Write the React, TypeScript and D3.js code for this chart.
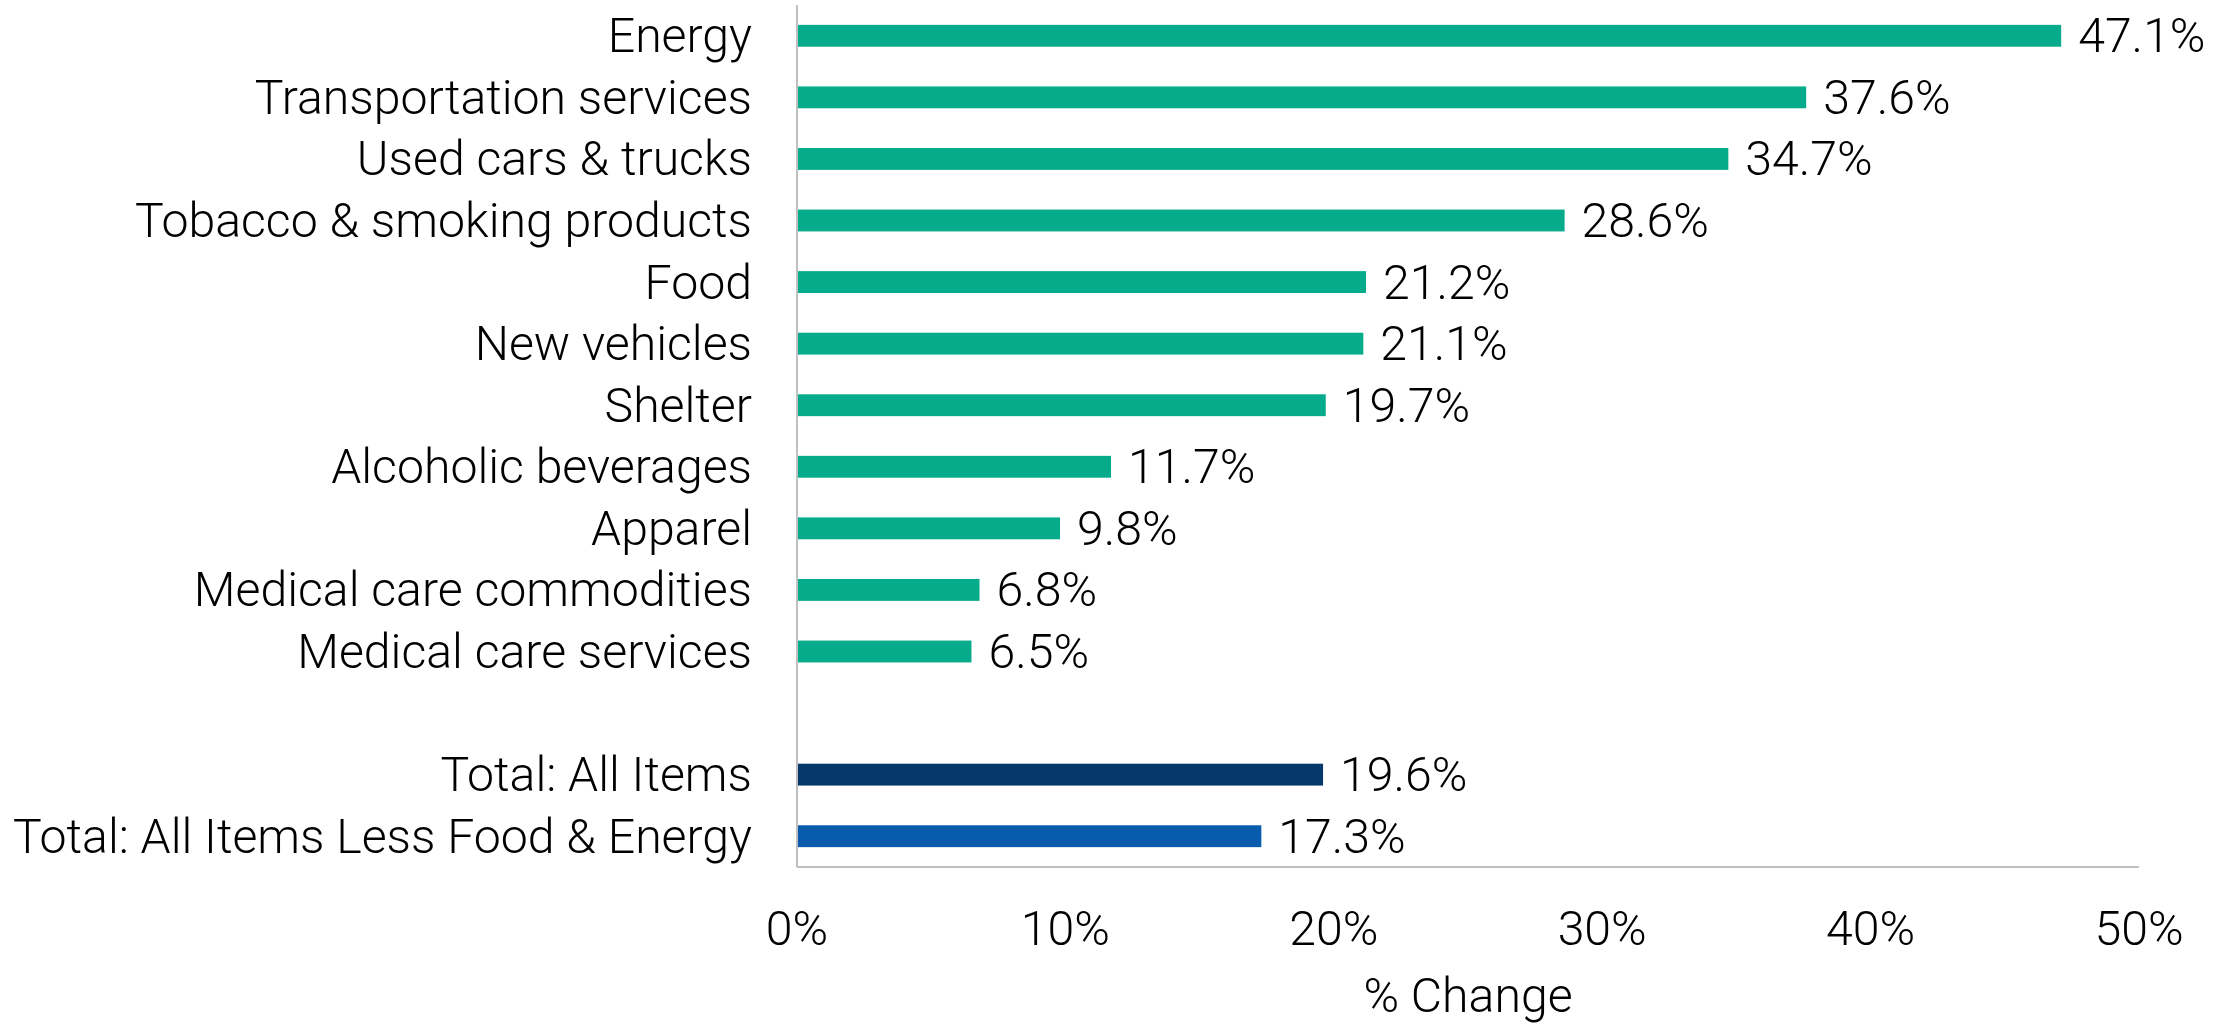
import React from "react";
import * as d3 from "d3";

const categories = [
  "Energy",
  "Transportation services",
  "Used cars & trucks",
  "Tobacco & smoking products",
  "Food",
  "New vehicles",
  "Shelter",
  "Alcoholic beverages",
  "Apparel",
  "Medical care commodities",
  "Medical care services",
  "",
  "Total: All Items",
  "Total: All Items Less Food & Energy",
];
const values: (number | null)[] = [47.1, 37.6, 34.7, 28.6, 21.2, 21.1, 19.7, 11.7, 9.8, 6.8, 6.5, null, 19.6, 17.3];
const barColors = ["#05AB8B", "#05AB8B", "#05AB8B", "#05AB8B", "#05AB8B", "#05AB8B", "#05AB8B", "#05AB8B", "#05AB8B", "#05AB8B", "#05AB8B", "#05AB8B", "#07386B", "#095BAE"];
const xTicks = [0, 10, 20, 30, 40, 50];
const xTitle = "% Change";

const W = 2236;
const H = 1025;
const FONT = "Roboto, 'Open Sans', sans-serif";
const FS = 48.2;

export default function App() {
  const x = d3.scaleLinear().domain([0, 50]).range([797, 2139]);
  const y = d3.scaleBand<string>().domain(categories.map((c, i) => String(i))).range([5, 867]).padding(0);
  const step = y.step();
  const barH = step * 0.355;
  return (
    <svg width={W} height={H} style={{ position: "absolute", left: 0, top: 0, background: "#fff" }}>
      {categories.map((c, i) => {
        const cy = (y(String(i)) as number) + step / 2;
        const v = values[i];
        return (
          <g key={i}>
            {c && (
              <text x={752} y={cy} textAnchor="end" dominantBaseline="central" fontFamily={FONT} fontWeight={300} fontSize={FS} fill="#000">
                {c}
              </text>
            )}
            {v !== null && (
              <>
                <rect x={x(0)} y={cy - barH / 2} width={x(v) - x(0)} height={barH} fill={barColors[i]} />
                <text x={x(v) + 17} y={cy} dominantBaseline="central" fontFamily={FONT} fontWeight={300} fontSize={FS} fill="#000">
                  {v.toFixed(1) + "%"}
                </text>
              </>
            )}
          </g>
        );
      })}
      <line x1={x(0)} x2={x(0)} y1={5} y2={867} stroke="#BFBFBF" strokeWidth={2} />
      <line x1={x(0)} x2={x(50)} y1={867} y2={867} stroke="#BFBFBF" strokeWidth={2} />
      {xTicks.map((t) => (
        <text key={t} x={x(t)} y={928} textAnchor="middle" dominantBaseline="central" fontFamily={FONT} fontWeight={300} fontSize={FS} fill="#000">
          {t + "%"}
        </text>
      ))}
      <text x={(x(0) + x(50)) / 2} y={1012} textAnchor="middle" fontFamily={FONT} fontWeight={300} fontSize={FS} fill="#000">
        {xTitle}
      </text>
    </svg>
  );
}
